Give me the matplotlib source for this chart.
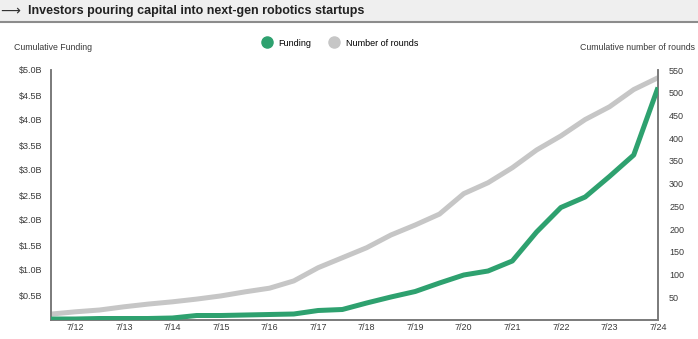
import numpy as np
import matplotlib
matplotlib.use('Agg')
import matplotlib.pyplot as plt
from matplotlib.lines import Line2D
from matplotlib.patches import Rectangle

plt.rcParams['font.family'] = ['Liberation Sans', 'DejaVu Sans']

# half-year steps, from Jan 2012 to Jul 2024 (x = year, 12 -> "7/12")
periods = [11.5, 12, 12.5, 13, 13.5, 14, 14.5, 15, 15.5, 16, 16.5, 17, 17.5,
           18, 18.5, 19, 19.5, 20, 20.5, 21, 21.5, 22, 22.5, 23, 23.5, 24]
funding = [0.02, 0.02, 0.03, 0.03, 0.03, 0.04, 0.09, 0.09, 0.10, 0.11, 0.12,
           0.19, 0.21, 0.34, 0.46, 0.57, 0.74, 0.90, 0.98, 1.18, 1.76, 2.25,
           2.46, 2.87, 3.30, 4.65]
rounds = [13, 18, 22, 29, 35, 40, 46, 53, 62, 70, 86, 115, 137, 159, 187, 209,
          233, 278, 302, 335, 374, 405, 441, 469, 507, 533]

xticks = list(range(12, 25))
xlabels = ['7/%d' % y for y in xticks]
fund_ticks = [0.5, 1.0, 1.5, 2.0, 2.5, 3.0, 3.5, 4.0, 4.5, 5.0]
round_ticks = list(range(50, 551, 50))

green = '#2ea16f'
grey = '#c6c6c6'
spine_col = '#7a7a7a'
txt = '#3a3a3a'

fig = plt.figure(figsize=(6.98, 3.39), dpi=100)

# title bar
fig.patches.append(Rectangle((0, 1 - 21/339), 1, 21/339, transform=fig.transFigure,
                             facecolor='#efefef', edgecolor='none', zorder=0))
fig.add_artist(Line2D([0, 1], [1 - 22/339] * 2, transform=fig.transFigure,
                      color='#8c8c8c', lw=1.5))
fig.text(0.0, 1 - 11/339, '⟶', fontsize=10, color='#333333', va='center',
         family=['DejaVu Sans'])
fig.text(28/698, 1 - 11/339, 'Investors pouring capital into next-gen robotics startups',
         fontsize=9, fontweight='bold', color='#222222', va='center')

ax = fig.add_axes([51/698, 19/339, 607/698, 250/339])
ax2 = ax.twinx()

ax2.plot(periods, rounds, color=grey, lw=3.6, solid_capstyle='butt', zorder=2)
ax.plot(periods, funding, color=green, lw=3.6, solid_capstyle='butt', zorder=3)
ax.set_zorder(ax2.get_zorder() + 1)
ax.patch.set_visible(False)

ax.set_xlim(11.5, 24)
ax.set_ylim(0, 5.0)
ax2.set_ylim(0, 550)

ax.set_xticks(xticks)
ax.set_xticklabels(xlabels)
ax.set_yticks(fund_ticks)
ax.set_yticklabels(['$%.1fB' % v for v in fund_ticks])
ax2.set_yticks(round_ticks)

for a in (ax, ax2):
    a.spines['top'].set_visible(False)
    for s in ('left', 'right', 'bottom'):
        a.spines[s].set_color(spine_col)
        a.spines[s].set_linewidth(1.2)
    a.tick_params(length=0, labelsize=6.5, labelcolor=txt)
ax.tick_params(axis='y', pad=6)
ax.tick_params(axis='x', pad=2)
ax2.tick_params(axis='y', pad=8)

fig.text(14/698, 1 - 48/339, 'Cumulative Funding', fontsize=6.3, color=txt, va='center')
fig.text(695/698, 1 - 48/339, 'Cumulative number of rounds', fontsize=6.3, color=txt,
         va='center', ha='right')

handles = [Line2D([], [], marker='o', ls='none', color=green, markersize=8),
           Line2D([], [], marker='o', ls='none', color=grey, markersize=8)]
fig.legend(handles, ['Funding', 'Number of rounds'], loc='center',
           bbox_to_anchor=(338/698, 1 - 43/339), ncol=2, frameon=False,
           fontsize=6.5, handletextpad=0.3, columnspacing=1.5)

fig.savefig('out.png', dpi=100)
